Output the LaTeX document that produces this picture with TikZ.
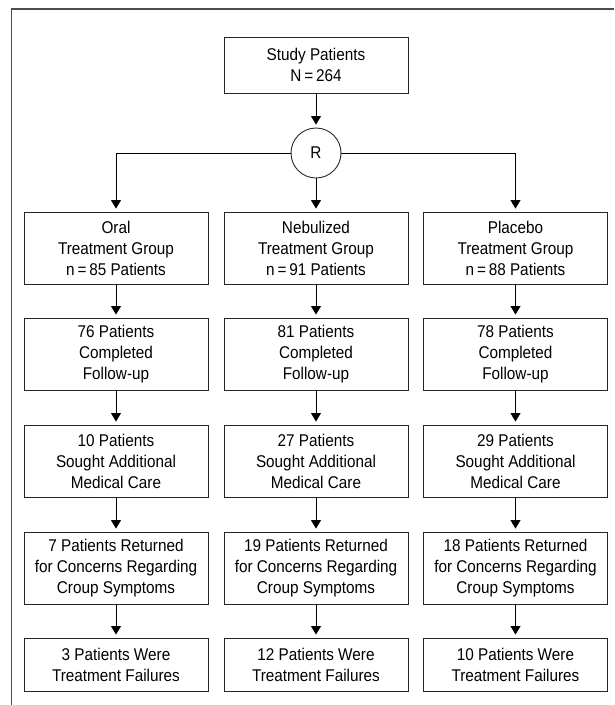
\documentclass[tikz,border=0pt]{standalone}
\usepackage{tikz}
\usepackage{fontspec}
\usetikzlibrary{arrows.meta}
\setmainfont{Liberation Sans}[FakeStretch=0.9]

\tikzset{
  flowbox/.style={draw=black!85, line width=0.9pt, minimum width=184pt, minimum height=72pt,
    inner sep=0pt, align=center, font=\fontsize{17}{21}\selectfont},
  endbox/.style={flowbox, minimum height=53pt},
  flowarrow/.style={draw=black, line width=0.9pt, -{Triangle[width=10pt,length=8.5pt]}, shorten >=3pt}
}

\begin{document}
\begin{tikzpicture}[x=1pt,y=-1pt]

        \useasboundingbox (0,0) rectangle (614,705);

        % frame
            \draw[black!70, line width=1.6pt] (11.5,705) -- (11.5,9) -- (614,9);

        % enrolment and randomization
            \node[flowbox, minimum height=56pt] (study) at (316,65) {Study Patients\\N\,=\,264};
            \node[draw=black!85, line width=0.9pt, circle, minimum size=50pt, inner sep=0pt,
                  font=\fontsize{17}{21}\selectfont] (rand) at (316,153) {R};

        % treatment groups
            \node[flowbox] (oral) at (116,248) {Oral\\Treatment Group\\n\,=\,85 Patients};
            \node[flowbox] (neb) at (316,248) {Nebulized\\Treatment Group\\n\,=\,91 Patients};
            \node[flowbox] (plac) at (515.5,248) {Placebo\\Treatment Group\\n\,=\,88 Patients};

        % follow-up
            \node[flowbox] (oralfu) at (116,354) {76 Patients\\Completed\\Follow-up};
            \node[flowbox] (nebfu) at (316,354) {81 Patients\\Completed\\Follow-up};
            \node[flowbox] (placfu) at (515.5,354) {78 Patients\\Completed\\Follow-up};

        % additional care
            \node[flowbox] (oralcare) at (116,461) {10 Patients\\Sought Additional\\Medical Care};
            \node[flowbox] (nebcare) at (316,461) {27 Patients\\Sought Additional\\Medical Care};
            \node[flowbox] (placcare) at (515.5,461) {29 Patients\\Sought Additional\\Medical Care};

        % returned
            \node[flowbox] (oralret) at (116,568) {7 Patients Returned\\for Concerns Regarding\\Croup Symptoms};
            \node[flowbox] (nebret) at (316,568) {19 Patients Returned\\for Concerns Regarding\\Croup Symptoms};
            \node[flowbox] (placret) at (515.5,568) {18 Patients Returned\\for Concerns Regarding\\Croup Symptoms};

        % failures
            \node[endbox] (oralfail) at (116,664.5) {3 Patients Were\\Treatment Failures};
            \node[endbox] (nebfail) at (316,664.5) {12 Patients Were\\Treatment Failures};
            \node[endbox] (placfail) at (515.5,664.5) {10 Patients Were\\Treatment Failures};

        % arrows
            \draw[flowarrow] (study) -- (rand);
            \draw[flowarrow] (rand.west) -| (oral.north);
            \draw[flowarrow] (rand) -- (neb);
            \draw[flowarrow] (rand.east) -| (plac.north);
            \foreach \grp in {oral,neb,plac} {
              \draw[flowarrow] (\grp) -- (\grp fu);
              \draw[flowarrow] (\grp fu) -- (\grp care);
              \draw[flowarrow] (\grp care) -- (\grp ret);
              \draw[flowarrow] (\grp ret) -- (\grp fail);
            }
        \end{tikzpicture}
\end{document}
